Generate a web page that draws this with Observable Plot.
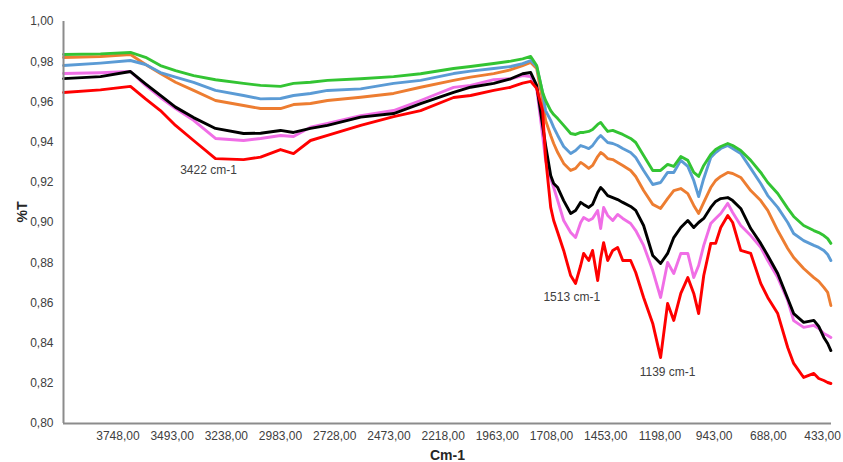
<!DOCTYPE html>
<html>
<head>
<meta charset="utf-8">
<script src="https://cdn.jsdelivr.net/npm/d3@7"></script>
<script src="https://cdn.jsdelivr.net/npm/@observablehq/plot@0.6"></script>
<style>
  html, body { margin: 0; padding: 0; background: #ffffff; }
  #chart { width: 843px; height: 462px; }
</style>
</head>
<body>
<div id="chart"></div>
<script>
// Wavenumbers (cm-1)
const wavenumbers = [4004, 3830, 3689, 3618, 3548, 3477, 3392, 3289, 3157, 3077, 2983, 2922, 2842, 2762, 2606, 2451, 2324, 2169, 2089, 1980, 1900, 1844, 1806, 1778, 1750, 1736, 1712, 1698, 1679, 1651, 1618, 1595, 1571, 1557, 1533, 1515, 1491, 1477, 1463, 1444, 1420, 1397, 1373, 1336, 1312, 1275, 1232, 1195, 1162, 1133, 1100, 1067, 1039, 1016, 992, 959, 936, 912, 879, 856, 818, 771, 724, 691, 644, 597, 569, 522, 474, 451, 427, 409, 394];

// %T series
const greenSeries = [0.9836, 0.9839, 0.9846, 0.9822, 0.9781, 0.9756, 0.9731, 0.9710, 0.9692, 0.9682, 0.9677, 0.9692, 0.9698, 0.9707, 0.9715, 0.9726, 0.9740, 0.9766, 0.9776, 0.9791, 0.9803, 0.9814, 0.9826, 0.9781, 0.9647, 0.9607, 0.9557, 0.9537, 0.9517, 0.9483, 0.9443, 0.9438, 0.9448, 0.9448, 0.9453, 0.9463, 0.9488, 0.9498, 0.9478, 0.9453, 0.9458, 0.9448, 0.9438, 0.9418, 0.9398, 0.9333, 0.9259, 0.9259, 0.9289, 0.9279, 0.9328, 0.9309, 0.9249, 0.9229, 0.9284, 0.9338, 0.9363, 0.9378, 0.9393, 0.9383, 0.9358, 0.9309, 0.9249, 0.9199, 0.9144, 0.9070, 0.9030, 0.8985, 0.8960, 0.8950, 0.8935, 0.8920, 0.8896];
const blueSeries = [0.9781, 0.9793, 0.9806, 0.9786, 0.9746, 0.9723, 0.9697, 0.9657, 0.9632, 0.9615, 0.9617, 0.9632, 0.9642, 0.9657, 0.9665, 0.9692, 0.9707, 0.9741, 0.9753, 0.9766, 0.9776, 0.9790, 0.9806, 0.9776, 0.9647, 0.9557, 0.9508, 0.9473, 0.9433, 0.9378, 0.9343, 0.9358, 0.9383, 0.9378, 0.9368, 0.9383, 0.9418, 0.9433, 0.9418, 0.9398, 0.9393, 0.9383, 0.9368, 0.9348, 0.9323, 0.9259, 0.9189, 0.9199, 0.9249, 0.9249, 0.9309, 0.9279, 0.9209, 0.9129, 0.9219, 0.9323, 0.9348, 0.9368, 0.9383, 0.9368, 0.9343, 0.9269, 0.9194, 0.9134, 0.9075, 0.9000, 0.8945, 0.8910, 0.8886, 0.8876, 0.8861, 0.8841, 0.8811];
const orangeSeries = [0.9821, 0.9826, 0.9836, 0.9786, 0.9741, 0.9698, 0.9657, 0.9607, 0.9582, 0.9567, 0.9567, 0.9587, 0.9592, 0.9607, 0.9623, 0.9642, 0.9673, 0.9707, 0.9723, 0.9741, 0.9760, 0.9781, 0.9796, 0.9766, 0.9607, 0.9508, 0.9433, 0.9393, 0.9348, 0.9294, 0.9259, 0.9269, 0.9299, 0.9289, 0.9269, 0.9284, 0.9328, 0.9348, 0.9338, 0.9318, 0.9313, 0.9299, 0.9284, 0.9259, 0.9229, 0.9159, 0.9090, 0.9070, 0.9119, 0.9159, 0.9169, 0.9144, 0.9085, 0.9045, 0.9100, 0.9174, 0.9209, 0.9229, 0.9249, 0.9244, 0.9224, 0.9159, 0.9109, 0.9060, 0.8960, 0.8871, 0.8826, 0.8771, 0.8726, 0.8707, 0.8677, 0.8652, 0.8587];
const blackSeries = [0.9716, 0.9726, 0.9751, 0.9690, 0.9632, 0.9574, 0.9522, 0.9468, 0.9443, 0.9444, 0.9458, 0.9448, 0.9468, 0.9483, 0.9524, 0.9542, 0.9591, 0.9647, 0.9673, 0.9692, 0.9715, 0.9740, 0.9746, 0.9682, 0.9483, 0.9383, 0.9234, 0.9194, 0.9174, 0.9109, 0.9045, 0.9060, 0.9100, 0.9090, 0.9075, 0.9090, 0.9149, 0.9174, 0.9159, 0.9134, 0.9124, 0.9114, 0.9100, 0.9080, 0.9060, 0.8985, 0.8836, 0.8796, 0.8846, 0.8925, 0.8975, 0.9010, 0.8975, 0.9000, 0.9020, 0.9075, 0.9105, 0.9119, 0.9124, 0.9109, 0.9070, 0.8970, 0.8896, 0.8836, 0.8746, 0.8622, 0.8547, 0.8503, 0.8513, 0.8483, 0.8428, 0.8398, 0.8363];
const pinkSeries = [0.9741, 0.9745, 0.9751, 0.9682, 0.9622, 0.9567, 0.9508, 0.9418, 0.9408, 0.9418, 0.9433, 0.9428, 0.9474, 0.9493, 0.9532, 0.9557, 0.9607, 0.9672, 0.9682, 0.9711, 0.9715, 0.9731, 0.9726, 0.9667, 0.9433, 0.9309, 0.9219, 0.9174, 0.9109, 0.9010, 0.8950, 0.8925, 0.9000, 0.9025, 0.9010, 0.9020, 0.9060, 0.8970, 0.9075, 0.9035, 0.9010, 0.9040, 0.9020, 0.8995, 0.8960, 0.8886, 0.8761, 0.8627, 0.8801, 0.8746, 0.8846, 0.8846, 0.8726, 0.8786, 0.8886, 0.8995, 0.9020, 0.9045, 0.9095, 0.9050, 0.8985, 0.8935, 0.8876, 0.8811, 0.8726, 0.8612, 0.8512, 0.8478, 0.8488, 0.8473, 0.8448, 0.8438, 0.8428];
const redSeries = [0.9647, 0.9660, 0.9677, 0.9615, 0.9557, 0.9483, 0.9408, 0.9318, 0.9313, 0.9325, 0.9363, 0.9343, 0.9408, 0.9433, 0.9483, 0.9527, 0.9557, 0.9622, 0.9632, 0.9657, 0.9673, 0.9693, 0.9702, 0.9667, 0.9557, 0.9323, 0.9075, 0.9010, 0.8950, 0.8861, 0.8736, 0.8697, 0.8786, 0.8846, 0.8811, 0.8861, 0.8711, 0.8821, 0.8900, 0.8811, 0.8861, 0.8876, 0.8811, 0.8811, 0.8751, 0.8627, 0.8498, 0.8328, 0.8597, 0.8513, 0.8647, 0.8726, 0.8647, 0.8547, 0.8736, 0.8896, 0.8896, 0.8975, 0.9035, 0.9000, 0.8861, 0.8846, 0.8697, 0.8627, 0.8547, 0.8378, 0.8299, 0.8229, 0.8249, 0.8224, 0.8214, 0.8204, 0.8199];

// Axis ticks
const xTicks = [3748, 3493, 3238, 2983, 2728, 2473, 2218, 1963, 1708, 1453, 1198, 943, 688, 433];
const yTicks = [0.80, 0.82, 0.84, 0.86, 0.88, 0.90, 0.92, 0.94, 0.96, 0.98, 1.00];

// Annotations
const annotationLabels = ["3422 cm-1", "1513 cm-1", "1139 cm-1"];
const annotationX = [3322, 1613, 1162];
const annotationY = [0.9259, 0.8627, 0.8254];

const seriesList = [
  {values: orangeSeries, color: "#ed7d31"},
  {values: blueSeries, color: "#5b9bd5"},
  {values: greenSeries, color: "#33c433"},
  {values: pinkSeries, color: "#f06ee6"},
  {values: blackSeries, color: "#000000"},
  {values: redSeries, color: "#ff0000"}
];

const comma = (f) => (d) => f(d).replace(".", ",");
const annotations = annotationLabels.map((t, i) => ({t, x: annotationX[i], y: annotationY[i]}));

const marks = [];
marks.push(Plot.axisY({ticks: yTicks, tickFormat: comma(d3.format(".2f")), tickSize: 0, tickPadding: 10, label: null, fill: "#404040"}));
marks.push(Plot.axisX({ticks: xTicks, tickFormat: comma(d3.format(".2f")), tickSize: 0, tickPadding: 8, label: null, fill: "#404040"}));
for (const s of seriesList) {
  const rows = wavenumbers.map((w, i) => ({w, t: s.values[i]}));
  marks.push(Plot.line(rows, {x: "w", y: "t", stroke: s.color, strokeWidth: 2.9, strokeLinejoin: "round"}));
}
marks.push(Plot.ruleY([0.80], {stroke: "#8c8c8c", strokeWidth: 2}));
marks.push(Plot.ruleX([4004], {stroke: "#8c8c8c", strokeWidth: 2}));
marks.push(Plot.text(annotations, {x: "x", y: "y", text: "t", fontSize: 12, fill: "#404040"}));
marks.push(Plot.text(["%T"], {frameAnchor: "left", dx: -41, rotate: -90, fontWeight: "bold", fontSize: 14, fill: "#262626"}));
marks.push(Plot.text(["Cm-1"], {frameAnchor: "bottom", lineAnchor: "middle", dy: 32, fontWeight: "bold", fontSize: 14, fill: "#262626"}));

const chart = Plot.plot({
  width: 843,
  height: 462,
  marginLeft: 63,
  marginRight: 12,
  marginTop: 21,
  marginBottom: 39,
  style: {fontFamily: "'Liberation Sans', Arial, sans-serif", fontSize: "12px", background: "#ffffff"},
  x: {type: "linear", domain: [4004, 391]},
  y: {domain: [0.80, 1.00]},
  marks
});
document.getElementById("chart").appendChild(chart);
</script>
</body>
</html>
